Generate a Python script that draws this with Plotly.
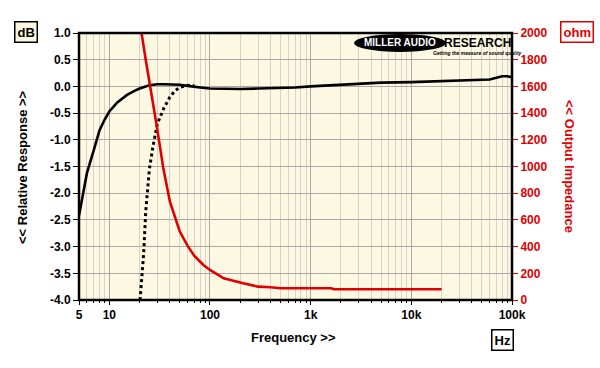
import plotly.graph_objects as go

# ---- data ----
freq_resp = [5, 6, 7, 8, 9, 10, 12, 15, 18, 20, 25, 30, 35, 40, 50, 60, 70, 80, 100, 150, 200,
             300, 400, 500, 700, 1000, 2000, 3000, 5000, 10000, 20000, 30000, 50000, 60000,
             70000, 80000, 90000, 100000]
db_resp = [-2.42, -1.62, -1.2, -0.82, -0.62, -0.47, -0.3, -0.16, -0.08, -0.04, 0.02, 0.04, 0.04,
           0.04, 0.03, 0.01, 0.0, -0.02, -0.04, -0.05, -0.05, -0.04, -0.035, -0.03, -0.02, 0.0,
           0.03, 0.055, 0.07, 0.08, 0.1, 0.11, 0.13, 0.13, 0.16, 0.19, 0.19, 0.17]

freq_sub = [20.2, 21, 22, 23, 24, 25, 27, 30, 35, 40, 45, 50, 55, 60, 70]
db_sub = [-4.0, -3.6, -3.1, -2.35, -1.85, -1.55, -1.15, -0.7, -0.4, -0.2, -0.08, -0.02, 0.0, 0.02, 0.01]

freq_imp = [20, 20.9, 23, 25.4, 29.5, 34.4, 40, 50, 60, 70, 86, 100, 137, 213, 300, 400, 500,
            1600, 1700, 20000]
ohm_imp = [2150, 2000, 1800, 1610, 1311, 986, 736, 515, 405, 330, 262, 225, 163, 125, 100, 95,
           88, 88, 80, 80]

x_tickvals = [5, 10, 100, 1000, 10000, 100000]
x_ticktext = ["5", "10", "100", "1k", "10k", "100k"]
x_minor = [m * d for d in [1, 10, 100, 1000, 10000] for m in range(2, 10)]
x_minor = [v for v in x_minor if v >= 5]
db_ticks = [1.0, 0.5, 0.0, -0.5, -1.0, -1.5, -2.0, -2.5, -3.0, -3.5, -4.0]
ohm_ticks = list(range(0, 2001, 200))

FONT = "Liberation Sans, Arial, sans-serif"
L, R, T, B = 79, 512, 33, 300
W, H = 600, 368


def px(x):
    return (x - L) / (R - L)


def py(y):
    return (B - y) / (B - T)


fig = go.Figure()
fig.add_trace(go.Scatter(x=freq_resp, y=db_resp, mode="lines",
                         line=dict(color="black", width=2.6), yaxis="y"))
fig.add_trace(go.Scatter(x=freq_sub, y=db_sub, mode="lines",
                         line=dict(color="black", width=3, dash="dot"), yaxis="y"))
fig.add_trace(go.Scatter(x=freq_imp, y=ohm_imp, mode="lines",
                         line=dict(color="#e00000", width=2.6), yaxis="y2"))

fig.update_layout(
    width=W, height=H,
    margin=dict(l=L, r=W - R, t=T, b=H - B),
    paper_bgcolor="white",
    plot_bgcolor="#fcf8e2",
    showlegend=False,
    font=dict(family=FONT, color="black"),
    xaxis=dict(
        type="log", range=[0.69897, 5],
        tickmode="array", tickvals=x_tickvals, ticktext=x_ticktext,
        tickfont=dict(size=12, weight="bold", family=FONT),
        ticks="outside", ticklen=4, tickcolor="black",
        showgrid=True, gridcolor="#a8a8a8", gridwidth=1,
        minor=dict(tickmode="array", tickvals=x_minor, ticks="outside", ticklen=2,
                   tickcolor="black", showgrid=True, gridcolor="#d6d4ca", gridwidth=1),
        zeroline=False, showline=False,
    ),
    yaxis=dict(
        range=[-4.0, 1.0], tickmode="array", tickvals=db_ticks,
        ticktext=[f"{v:.1f}" for v in db_ticks],
        tickfont=dict(size=12, weight="bold", family=FONT),
        ticks="outside", ticklen=5, tickcolor="black",
        showgrid=True, gridcolor="#a8a8a8", gridwidth=1, zeroline=False,
    ),
    yaxis2=dict(
        range=[0, 2000], overlaying="y", side="right", tickmode="array", tickvals=ohm_ticks,
        tickfont=dict(size=12, weight="bold", family=FONT, color="#e00000"),
        ticks="outside", ticklen=5, tickcolor="#e00000",
        showgrid=False, zeroline=False,
    ),
)

shapes = [
    dict(type="rect", xref="paper", yref="paper", x0=0, x1=1, y0=0, y1=1,
         line=dict(color="black", width=2.5), layer="above"),
    dict(type="circle", xref="paper", yref="paper", x0=px(354), x1=px(446), y0=py(52), y1=py(34),
         fillcolor="black", line=dict(color="black", width=0), layer="above"),
]
fig.update_layout(shapes=shapes)

ann = [
    dict(text="<b>MILLER AUDIO</b>", x=px(400), y=py(43), font=dict(size=10, color="white", family=FONT)),
    dict(text="<b>RESEARCH</b>", x=px(477), y=py(43), font=dict(size=12, color="black", family=FONT)),
    dict(text="<b><i>Getting the measure of sound quality</i></b>", x=px(477), y=py(53.5),
         font=dict(size=5, color="black", family=FONT)),
    dict(text="<b>&lt;&lt; Relative Response &gt;&gt;</b>", x=px(22), y=py(167), textangle=-90,
         font=dict(size=13, color="black", family=FONT)),
    dict(text="<b>&lt;&lt; Output Impedance</b>", x=px(570), y=py(166), textangle=90,
         font=dict(size=13, color="#e00000", family=FONT)),
    dict(text="<b>Frequency &gt;&gt;</b>", x=px(293), y=py(337),
         font=dict(size=13, color="black", family=FONT)),
    dict(text="<b>dB</b>", x=px(26), y=py(32), bordercolor="black", borderwidth=1.5, borderpad=2,
         bgcolor="#fdf8e0", font=dict(size=13, color="black", family=FONT)),
    dict(text="<b>ohm</b>", x=px(577), y=py(32), bordercolor="#e00000", borderwidth=1.5, borderpad=2,
         bgcolor="white", font=dict(size=13, color="#e00000", family=FONT)),
    dict(text="<b>Hz</b>", x=px(502), y=py(340), bordercolor="black", borderwidth=1.5, borderpad=2,
         bgcolor="white", font=dict(size=13, color="black", family=FONT)),
]
for a in ann:
    a.update(xref="paper", yref="paper", showarrow=False, xanchor="center", yanchor="middle")
fig.update_layout(annotations=ann)

fig.write_html("out.html", config={"displayModeBar": False},
               post_script="document.body.style.margin='0';document.body.style.overflow='hidden';")
